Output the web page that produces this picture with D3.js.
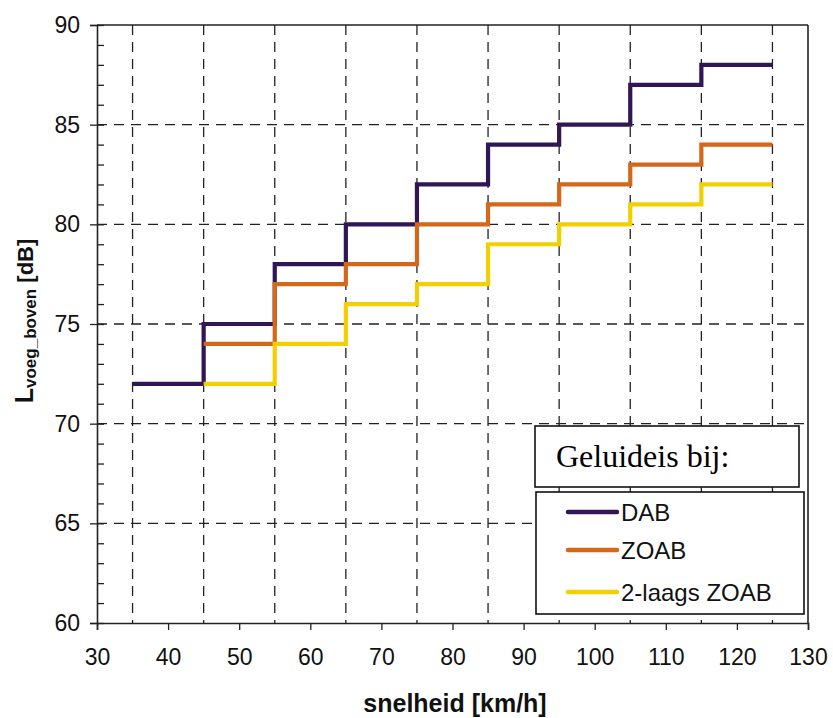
<!DOCTYPE html>
<html lang="nl">
<head>
  <meta charset="UTF-8">
  <title>Geluideis</title>
  <style>
    body { margin: 0; background: #fff; }
    .tick text { font-family: "Liberation Sans", Arial, sans-serif; font-size: 23px; fill: #111; }
    .grid line { stroke: #222; stroke-width: 1.3; stroke-dasharray: 10 7; }
  </style>
</head>
<body>
  <script src="https://d3js.org/d3.v7.min.js"></script>
  <div id="chart"></div>
  <script>
    // step edges (speed, km/h) and the level on each step (dB)
    var edges = [35, 45, 55, 65, 75, 85, 95, 105, 115, 125];
    var dab = [72, 75, 78, 80, 82, 84, 85, 87, 88];
    var zoab = [null, 74, 77, 78, 80, 81, 82, 83, 84];
    var zoab2 = [null, 72, 74, 76, 77, 79, 80, 81, 82];

    var seriesNames = ["DAB", "ZOAB", "2-laags ZOAB"];
    var seriesColors = ["#311656", "#d4681a", "#f2d000"];
    var xTicks = [30, 40, 50, 60, 70, 80, 90, 100, 110, 120, 130];
    var yTicks = [60, 65, 70, 75, 80, 85, 90];

    var W = 833, H = 718;
    var margin = { top: 25, right: 25, bottom: 95, left: 97 },
      width = 808 - margin.left,
      height = 623 - margin.top;

    var svg = d3.select("#chart").append("svg")
      .attr("width", W).attr("height", H);
    var g = svg.append("g")
      .attr("transform", "translate(" + margin.left + "," + margin.top + ")");

    var x = d3.scaleLinear().domain([30, 130]).range([0, width]);
    var y = d3.scaleLinear().domain([60, 90]).range([height, 0]);

    // dashed grid
    g.append("g").attr("class", "grid")
      .selectAll("line").data(edges).enter().append("line")
      .attr("x1", d => x(d)).attr("x2", d => x(d))
      .attr("y1", 0).attr("y2", height);
    g.append("g").attr("class", "grid")
      .selectAll("line").data([65, 70, 75, 80, 85]).enter().append("line")
      .attr("x1", 0).attr("x2", width)
      .attr("y1", d => y(d)).attr("y2", d => y(d));

    // minor inner ticks on y
    g.append("g")
      .call(d3.axisRight(y).ticks(30).tickSize(7).tickFormat(""))
      .call(a => a.select(".domain").remove())
      .selectAll("line").attr("stroke", "#222").attr("stroke-width", 1.3);

    // axes
    var yAxis = g.append("g")
      .call(d3.axisLeft(y).tickValues(yTicks).tickSize(7).tickPadding(10));
    var xAxis = g.append("g").attr("transform", "translate(0," + height + ")")
      .call(d3.axisBottom(x).tickValues(xTicks).tickSize(7).tickPadding(19));
    [yAxis, xAxis].forEach(a => {
      a.select(".domain").attr("stroke", "#222").attr("stroke-width", 1.6);
      a.selectAll(".tick line").attr("stroke", "#222").attr("stroke-width", 1.3);
    });

    // frame top / right
    g.append("line").attr("x1", 0).attr("x2", width).attr("y1", 0).attr("y2", 0)
      .attr("stroke", "#222").attr("stroke-width", 1.6);
    g.append("line").attr("x1", width).attr("x2", width).attr("y1", 0).attr("y2", height)
      .attr("stroke", "#222").attr("stroke-width", 1.6);

    // step lines
    var line = d3.line()
      .x(d => x(d[0])).y(d => y(d[1]))
      .curve(d3.curveStepAfter);

    function points(vals) {
      var pts = [];
      vals.forEach((v, i) => { if (v !== null) pts.push([edges[i], v]); });
      pts.push([edges[edges.length - 1], vals[vals.length - 1]]);
      return pts;
    }

    [dab, zoab, zoab2].forEach((s, i) => {
      g.append("path")
        .attr("d", line(points(s)))
        .attr("fill", "none")
        .attr("stroke", seriesColors[i])
        .attr("stroke-width", 4.2)
        .attr("stroke-linejoin", "miter");
    });

    // legend
    svg.append("rect").attr("x", 535).attr("y", 426).attr("width", 264).attr("height", 61)
      .attr("fill", "#fff").attr("stroke", "#111").attr("stroke-width", 1.6);
    svg.append("text").attr("x", 556).attr("y", 467)
      .attr("font-family", "Liberation Serif, Times New Roman, serif")
      .attr("font-size", 32).attr("fill", "#000")
      .text("Geluideis bij:");

    svg.append("rect").attr("x", 536).attr("y", 492).attr("width", 268).attr("height", 122)
      .attr("fill", "#fff").attr("stroke", "#111").attr("stroke-width", 1.6);
    var leg = svg.append("g").selectAll("g").data(seriesNames).enter().append("g")
      .attr("transform", (d, i) => "translate(0," + [512, 550, 592][i] + ")");
    leg.append("line").attr("x1", 568).attr("x2", 617)
      .attr("stroke", (d, i) => seriesColors[i]).attr("stroke-width", 4.5)
      .attr("stroke-linecap", "round");
    leg.append("text").attr("x", 621).attr("y", 9)
      .attr("font-family", "Liberation Sans, Arial, sans-serif")
      .attr("font-size", 24).attr("fill", "#111")
      .text(d => d);

    // axis titles
    svg.append("text").attr("x", 455).attr("y", 712)
      .attr("text-anchor", "middle")
      .attr("font-family", "Liberation Sans, Arial, sans-serif")
      .attr("font-weight", "bold").attr("font-size", 25).attr("fill", "#111")
      .text("snelheid [km/h]");

    var yl = svg.append("text")
      .attr("transform", "translate(33,321) rotate(-90)")
      .attr("text-anchor", "middle")
      .attr("font-family", "Liberation Sans, Arial, sans-serif")
      .attr("font-weight", "bold").attr("font-size", 22).attr("fill", "#111");
    yl.append("tspan").attr("font-size", 25).text("L");
    yl.append("tspan").attr("font-size", 17).attr("dy", 3).text("voeg_boven");
    yl.append("tspan").attr("dy", -3).text(" [dB]");
  </script>
</body>
</html>
